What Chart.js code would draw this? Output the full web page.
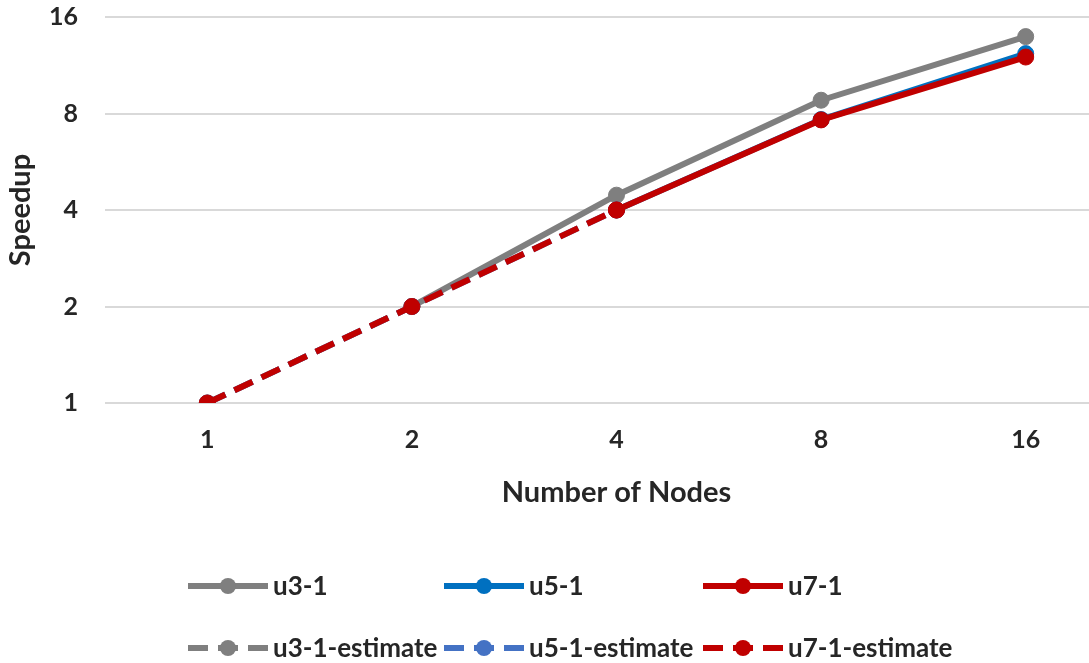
<!DOCTYPE html>
<html lang="en">
<head>
    <meta charset="UTF-8">
    <title>Speedup vs Number of Nodes</title>
    <script src="https://cdn.jsdelivr.net/npm/chart.js@4/dist/chart.umd.min.js"></script>
    <style>
        html, body{
            margin: 0;
            padding: 0;
            overflow: hidden;
            background: #fff;
        }
        #wrap{
            width: 1137px;
            height: 663px;
        }
    </style>
</head>
<body>
    <div id="wrap">
        <canvas id="chartCanvas" width="1137" height="663"></canvas>
    </div>

    <script>
        // values (log2 y axis)
        var nodes = ['1', '2', '4', '8', '16'];
        var yTicks = [1, 2, 4, 8, 16];
        var yTickLabels = ['1', '2', '4', '8', '16'];

        var u3 = [null, 2, 4.45, 8.8, 13.9];
        var u5 = [null, null, 4, 7.66, 12.3];
        var u7 = [null, null, 4, 7.64, 12.0];
        var u3Est = [1, 2, null, null, null];
        var u5Est = [1, 2, 4, null, null];
        var u7Est = [1, 2, 4, null, null];

        var FONT = 'Lato';
        var TEXT = '#262626';
        var CLEAR = 'rgba(0,0,0,0)';

        function line(label, data, color, dashed, order){
            return {
                label: label,
                data: data,
                borderColor: color,
                backgroundColor: color,
                pointBackgroundColor: color,
                pointBorderColor: color,
                borderWidth: 6,
                borderDash: dashed ? [20, 10] : [],
                pointRadius: 8,
                pointBorderWidth: 1,
                tension: 0,
                fill: false,
                order: order
            };
        }

        // legend drawn in fixed columns like the original
        var legendCols = [188, 444, 703];
        var legendRows = [586, 648];
        var gridLegend = {
            id: 'gridLegend',
            afterDraw: function(chart){
                var c = chart.ctx;
                chart.data.datasets.forEach(function(ds, i){
                    var x = legendCols[i % 3];
                    var y = legendRows[Math.floor(i / 3)];
                    c.save();
                    c.strokeStyle = ds.borderColor;
                    c.lineWidth = 6;
                    c.setLineDash(ds.borderDash);
                    c.beginPath();
                    c.moveTo(x, y);
                    c.lineTo(x + 80, y);
                    c.stroke();
                    c.setLineDash([]);
                    c.fillStyle = ds.borderColor;
                    c.beginPath();
                    c.arc(x + 40, y, 8, 0, Math.PI * 2);
                    c.fill();
                    c.fillStyle = TEXT;
                    c.font = 'bold 26px ' + FONT;
                    c.textBaseline = 'middle';
                    c.fillText(ds.label, x + 85, y + 1);
                    c.restore();
                });
            }
        };

        const ctx = document.getElementById('chartCanvas').getContext('2d');
        const chart = new Chart(ctx, {
            type: 'line',
            data: {
                labels: nodes,
                datasets: [
                    line('u3-1', u3, '#7f7f7f', false, 6),
                    line('u5-1', u5, '#0070c0', false, 5),
                    line('u7-1', u7, '#c00000', false, 2),
                    line('u3-1-estimate', u3Est, '#7f7f7f', true, 4),
                    line('u5-1-estimate', u5Est, '#4472c4', true, 3),
                    line('u7-1-estimate', u7Est, '#c00000', true, 1)
                ]
            },
            options: {
                responsive: false,
                animation: false,
                layout: {
                    padding: {top: 17, right: 1, bottom: 145, left: 0}
                },
                plugins: {
                    legend: {display: false},
                    tooltip: {enabled: false}
                },
                scales: {
                    x: {
                        offset: true,
                        grid: {color: CLEAR, tickColor: CLEAR, drawTicks: true, tickLength: 22},
                        border: {display: false},
                        ticks: {
                            color: TEXT,
                            padding: 0,
                            font: {family: FONT, size: 25, weight: 'bold'}
                        },
                        title: {
                            display: true,
                            text: 'Number of Nodes',
                            color: TEXT,
                            font: {family: FONT, size: 29, weight: 'bold'},
                            padding: {top: 20, bottom: 8}
                        },
                        afterFit: function(s){ s.height = 115; }
                    },
                    y: {
                        type: 'logarithmic',
                        min: 1,
                        max: 16,
                        grid: {color: '#d9d9d9', lineWidth: 2, drawTicks: true, tickLength: 27, tickColor: CLEAR},
                        border: {display: false},
                        afterBuildTicks: function(s){
                            s.ticks = yTicks.map(function(v){ return {value: v}; });
                        },
                        ticks: {
                            color: TEXT,
                            padding: 0,
                            font: {family: FONT, size: 25, weight: 'bold'},
                            callback: function(v){
                                var i = yTicks.indexOf(v);
                                return i >= 0 ? yTickLabels[i] : '';
                            }
                        },
                        title: {
                            display: true,
                            text: 'Speedup',
                            color: TEXT,
                            font: {family: FONT, size: 29, weight: 'bold'},
                            padding: {top: 3, bottom: 0}
                        },
                        afterFit: function(s){ s.width = 105; }
                    }
                }
            },
            plugins: [gridLegend]
        });
    </script>
</body>
</html>
